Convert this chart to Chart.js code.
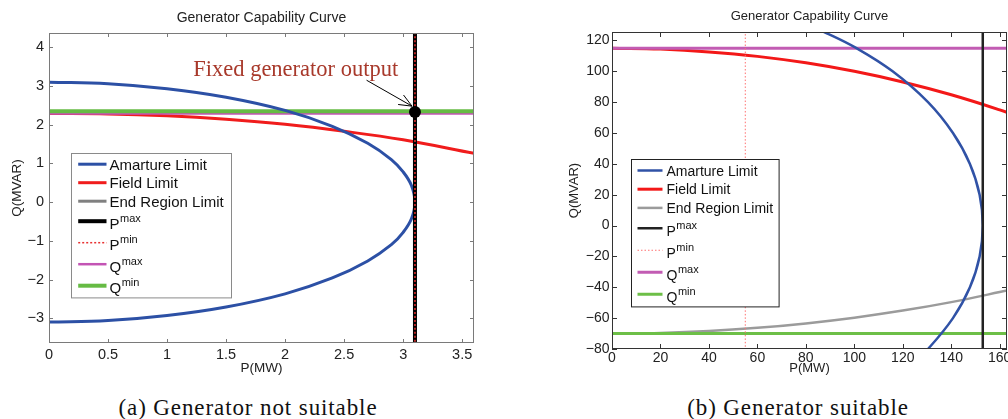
<!DOCTYPE html>
<html>
<head>
<meta charset="utf-8">
<script src="https://cdn.jsdelivr.net/npm/chart.js@4.4.0/dist/chart.umd.min.js"></script>
<style>
html, body { margin: 0; padding: 0; background: #fff; overflow: hidden; }
#wrap { position: relative; width: 1008px; height: 419px; overflow: hidden; }
canvas { position: absolute; top: 0; }
#ca { left: 0; }
#cb { left: 556px; }
.cap { position: absolute; top: 395px; line-height: 26px; font-family: 'Liberation Serif', serif; font-size: 23px; letter-spacing: 0.9px; color: #111; transform: translateX(-50%); white-space: nowrap; }
</style>
</head>
<body>
<div id="wrap">
  <canvas id="ca" width="500" height="380"></canvas>
  <canvas id="cb" width="480" height="380"></canvas>
  <div class="cap" style="left:248px">(a) Generator not suitable</div>
  <div class="cap" style="left:798px">(b) Generator suitable</div>
</div>
<script>
const names = ['Amarture Limit', 'Field Limit', 'End Region Limit', 'P^max', 'P^min', 'Q^max', 'Q^min'];

// (a) generator not suitable
const aArmP = [0, 0.5, 1.0, 1.5, 2.0, 2.4, 2.7, 2.9, 3.0, 3.07, 3.1, 3.07, 3.0, 2.9, 2.7, 2.4, 2.0, 1.5, 1.0, 0.5, 0];
const aArmQ = [3.1, 3.06, 2.93, 2.71, 2.37, 1.96, 1.52, 1.10, 0.78, 0.43, 0, -0.43, -0.78, -1.10, -1.52, -1.96, -2.37, -2.71, -2.93, -3.06, -3.1];
const aFieldP = [0, 0.5, 1.0, 1.5, 2.0, 2.5, 3.0, 3.6];
const aFieldQ = [2.29, 2.28, 2.23, 2.14, 2.01, 1.83, 1.61, 1.26];
const aEndP = [];
const aEndQ = [];
const aPmax = 3.1, aPmin = 3.1, aQmax = 2.29, aQmin = 2.35;
const aOutP = 3.1, aOutQ = 2.33;
const aXRange = [0, 3.6], aYRange = [-3.64, 4.37];
const aXTicks = [0, 0.5, 1, 1.5, 2, 2.5, 3, 3.5];
const aYTicks = [-3, -2, -1, 0, 1, 2, 3, 4];

// (b) generator suitable
const bArmP = [80.7, 88.2, 100.9, 115.8, 130.4, 140.7, 147.7, 151.7, 153, 151.7, 147.7, 140.7, 130.4, 123.7];
const bArmQ = [130, 125, 115, 100, 80, 60, 40, 20, 0, -20, -40, -60, -80, -90];
const bFieldP = [0, 20, 40, 60, 80, 100, 120, 140, 160, 170];
const bFieldQ = [115, 114.4, 112.6, 109.7, 105.5, 100, 93.1, 84.8, 75, 69.4];
const bEndP = [0, 20, 40, 60, 80, 100, 120, 140, 160, 170];
const bEndQ = [-70, -69.6, -68.4, -66.3, -63.4, -59.7, -55.1, -49.6, -43.1, -39.6];
const bPmax = 153, bPmin = 55, bQmax = 115, bQmin = -70;
const bXRange = [0, 163], bYRange = [-80, 125.5];
const bXTicks = [0, 20, 40, 60, 80, 100, 120, 140, 160];
const bYTicks = [-80, -60, -40, -20, 0, 20, 40, 60, 80, 100, 120];

const SANS = "'Liberation Sans', Arial, sans-serif";
const minus = v => String(v).replace('-', '\u2212');
const pts = (xs, ys) => xs.map((x, i) => ({x: x, y: ys[i]}));
const vline = (p, r) => [{x: p, y: r[0] - 10}, {x: p, y: r[1] + 10}];
const hline = (q, r) => [{x: r[0], y: q}, {x: r[1] + 10, y: q}];

// lower order = drawn on top
function line(label, data, color, width, order, dash) {
  return {
    label: label, data: data, showLine: true, borderColor: color, borderWidth: width,
    borderDash: dash || [], pointRadius: 0, tension: 0.4, clip: 0, order: order, inLegend: true
  };
}

const frame = {
  id: 'frame',
  afterDatasetsDraw(chart, args, o) {
    const ctx = chart.ctx, a = chart.chartArea, xs = chart.scales.x, ys = chart.scales.y;
    ctx.save();

    // annotation
    if (o.note) {
      const n = o.note;
      ctx.fillStyle = n.color;
      ctx.font = n.font;
      ctx.textAlign = 'center';
      ctx.textBaseline = 'middle';
      ctx.fillText(n.text, xs.getPixelForValue(n.at[0]), ys.getPixelForValue(n.at[1]));
      const x1 = xs.getPixelForValue(n.from[0]), y1 = ys.getPixelForValue(n.from[1]);
      const x2 = xs.getPixelForValue(n.to[0]), y2 = ys.getPixelForValue(n.to[1]);
      const ang = Math.atan2(y2 - y1, x2 - x1);
      ctx.strokeStyle = '#000';
      ctx.lineWidth = 1;
      ctx.beginPath();
      ctx.moveTo(x1, y1); ctx.lineTo(x2, y2);
      ctx.moveTo(x2 - 14 * Math.cos(ang - 0.4), y2 - 14 * Math.sin(ang - 0.4));
      ctx.lineTo(x2, y2);
      ctx.lineTo(x2 - 14 * Math.cos(ang + 0.4), y2 - 14 * Math.sin(ang + 0.4));
      ctx.stroke();
    }

    // box and inward ticks
    ctx.strokeStyle = o.border;
    ctx.lineWidth = 1;
    ctx.strokeRect(a.left + 0.5, a.top + 0.5, a.width - 1, a.height - 1);
    ctx.beginPath();
    xs.ticks.forEach(t => {
      const px = Math.round(xs.getPixelForValue(t.value)) + 0.5;
      ctx.moveTo(px, a.bottom); ctx.lineTo(px, a.bottom - o.tick);
      ctx.moveTo(px, a.top); ctx.lineTo(px, a.top + o.tick);
    });
    ys.ticks.forEach(t => {
      const py = Math.round(ys.getPixelForValue(t.value)) + 0.5;
      ctx.moveTo(a.left, py); ctx.lineTo(a.left + o.tick, py);
      ctx.moveTo(a.right, py); ctx.lineTo(a.right - o.tick, py);
    });
    ctx.stroke();

    // title
    ctx.fillStyle = '#222';
    ctx.font = o.titleFont;
    ctx.textAlign = 'center';
    ctx.textBaseline = 'middle';
    ctx.fillText(o.title, (a.left + a.right) / 2, o.titleY);

    // legend
    const L = o.legend;
    const items = chart.data.datasets.filter(d => d.inLegend);
    let h = L.pad * 2;
    items.forEach(d => { h += d.label.includes('^') ? L.supRow : L.row; });
    const x0 = Math.round(a.left + L.dx) + 0.5, y0 = Math.round(a.top + L.dy) + 0.5;
    ctx.fillStyle = '#fff';
    ctx.fillRect(x0, y0, L.w, h);
    ctx.strokeStyle = L.border;
    ctx.lineWidth = 1;
    ctx.strokeRect(x0, y0, L.w, h);
    let cy = y0 + L.pad;
    items.forEach(d => {
      const parts = d.label.split('^');
      const rh = parts.length > 1 ? L.supRow : L.row;
      const my = cy + rh / 2;
      ctx.strokeStyle = d.borderColor;
      ctx.lineWidth = d.borderWidth;
      ctx.setLineDash(d.borderDash);
      ctx.beginPath();
      ctx.moveTo(x0 + L.s0, my); ctx.lineTo(x0 + L.s1, my);
      ctx.stroke();
      ctx.setLineDash([]);
      ctx.fillStyle = '#111';
      ctx.textAlign = 'left';
      ctx.textBaseline = 'alphabetic';
      ctx.font = L.font;
      ctx.fillText(parts[0], x0 + L.tx, my + (parts.length > 1 ? 7.5 : L.cap));
      if (parts.length > 1) {
        const w = ctx.measureText(parts[0]).width;
        ctx.font = L.supFont;
        ctx.fillText(parts[1], x0 + L.tx + w + 0.5, my + 0.5);
      }
      cy += rh;
    });
    ctx.restore();
  }
};

function makeChart(id, datasets, cfg) {
  return new Chart(document.getElementById(id), {
    type: 'scatter',
    data: {datasets: datasets},
    options: {
      responsive: false,
      animation: false,
      layout: {padding: cfg.padding},
      plugins: {legend: {display: false}, tooltip: {enabled: false}, frame: cfg.frame},
      scales: {
        x: {
          type: 'linear', min: cfg.xr[0], max: cfg.xr[1],
          grid: {display: false, drawTicks: false}, border: {display: false},
          afterBuildTicks: s => { s.ticks = cfg.xt.map(v => ({value: v})); },
          afterFit: s => { s.height = cfg.xh; },
          ticks: {padding: cfg.xPad, color: '#222', font: {family: SANS, size: cfg.tickSize}, callback: minus},
          title: {display: true, text: 'P(MW)', color: '#222', font: {family: SANS, size: cfg.axisSize}, padding: {top: 0, bottom: 4}}
        },
        y: {
          type: 'linear', min: cfg.yr[0], max: cfg.yr[1],
          grid: {display: false, drawTicks: false}, border: {display: false},
          afterBuildTicks: s => { s.ticks = cfg.yt.map(v => ({value: v})); },
          afterFit: s => { s.width = cfg.yw; },
          ticks: {padding: cfg.yPad, color: '#222', font: {family: SANS, size: cfg.tickSize}, callback: minus},
          title: {display: true, text: 'Q(MVAR)', color: '#222', font: {family: SANS, size: cfg.axisSize}, padding: {top: cfg.yTitlePad, bottom: 0}}
        }
      }
    },
    plugins: [frame]
  });
}

// chart (a)
makeChart('ca', [
  line(names[0], pts(aArmP, aArmQ), '#2c50a5', 3, 3),
  line(names[1], pts(aFieldP, aFieldQ), '#f01c1c', 3, 7),
  line(names[2], pts(aEndP, aEndQ), '#808080', 3, 8),
  line(names[3], vline(aPmax, aYRange), '#000000', 4, 2),
  line(names[4], vline(aPmin, aYRange), '#e83030', 1.5, 1, [2, 2]),
  line(names[5], hline(aQmax, aXRange), '#c354b4', 2.5, 5),
  line(names[6], hline(aQmin, aXRange), '#66bb44', 4, 4),
  {data: [{x: aOutP, y: aOutQ}], showLine: false, pointRadius: 6, pointBackgroundColor: '#000', pointBorderWidth: 0, order: 0, clip: false}
], {
  padding: {left: 0, right: 26, top: 33, bottom: 0},
  xr: aXRange, yr: aYRange, xt: aXTicks, yt: aYTicks,
  xh: 37, yw: 49, xPad: 3, yPad: 5, tickSize: 14.5, axisSize: 13.5, yTitlePad: 9,
  frame: {
    border: '#7a7a7a', tick: 4, title: 'Generator Capability Curve', titleFont: '14px ' + SANS, titleY: 18.5,
    legend: {dx: 22, dy: 120.3, w: 160, pad: 1.45, row: 18.5, supRow: 21.5, s0: 6.7, s1: 35, tx: 38, cap: 5.3,
             font: '15px ' + SANS, supFont: '11px ' + SANS, border: '#8a8a8a'},
    note: {text: 'Fixed generator output', color: '#a8392b', font: "22.5px 'Liberation Serif', serif",
           at: [2.09, 3.41], from: [2.69, 3.15], to: [3.075, 2.48]}
  }
});

// chart (b)
makeChart('cb', [
  line(names[0], pts(bArmP, bArmQ), '#3052a6', 2.5, 3),
  line(names[1], pts(bFieldP, bFieldQ), '#f31818', 3, 6),
  line(names[2], pts(bEndP, bEndQ), '#9b9b9b', 2.5, 7),
  line(names[3], vline(bPmax, bYRange), '#222222', 2.5, 2),
  line(names[4], vline(bPmin, bYRange), '#ff7070', 1, 1, [1.5, 2]),
  line(names[5], hline(bQmax, bXRange), '#c25cb3', 3, 5),
  line(names[6], hline(bQmin, bXRange), '#6dbf47', 3, 4)
], {
  padding: {left: 0, right: 29, top: 32, bottom: 0},
  xr: bXRange, yr: bYRange, xt: bXTicks, yt: bYTicks,
  xh: 31, yw: 56, xPad: 1, yPad: 2.5, tickSize: 14, axisSize: 13, yTitlePad: 11,
  frame: {
    border: '#333333', tick: 5, title: 'Generator Capability Curve', titleFont: '13px ' + SANS, titleY: 16,
    legend: {dx: 18.7, dy: 127, w: 147.6, pad: 1.65, row: 18.7, supRow: 22, s0: 6, s1: 31, tx: 35, cap: 5,
             font: '14px ' + SANS, supFont: '11px ' + SANS, border: '#222222'}
  }
});
</script>
</body>
</html>
